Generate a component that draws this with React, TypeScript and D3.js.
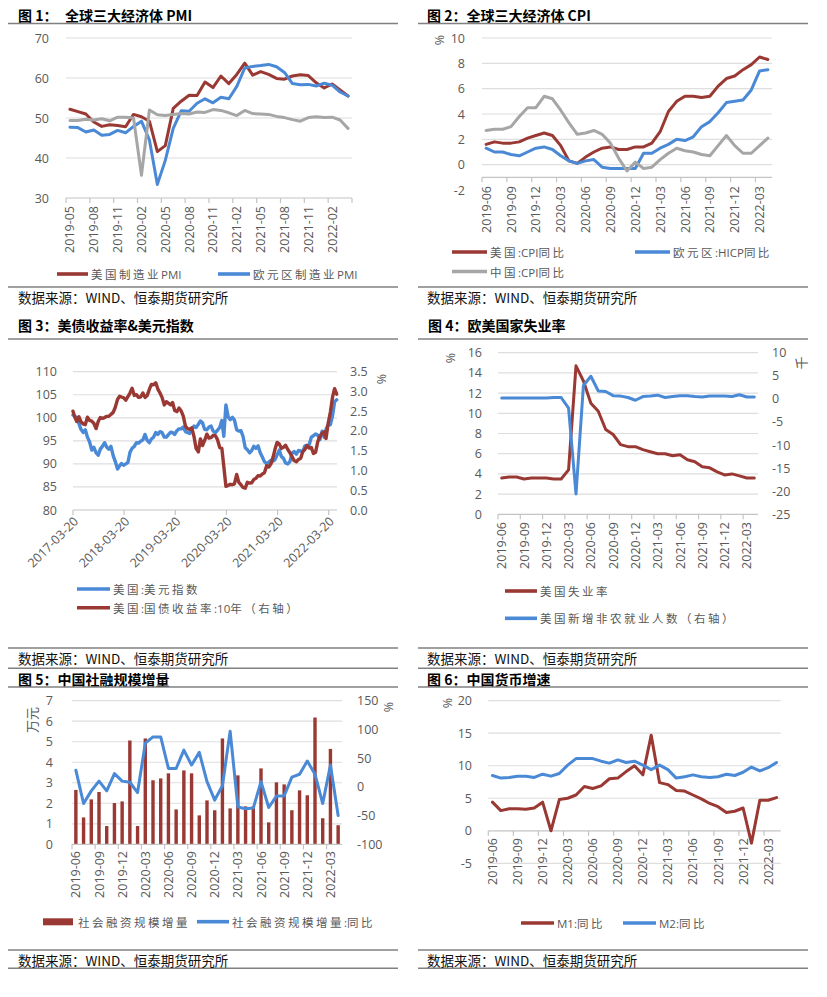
import React from "react";
import * as d3 from "d3";

const RED = "#9a3833";
const BLUE = "#4a89d6";
const GRAYL = "#a6a6a6";
const GRID = "#dedede";
const AXISC = "#c4c4c4";
const TXT = "#595959";
const RULE = "#808080";
const NUMF = "'Open Sans', 'Liberation Sans', Arial, sans-serif";
const CJKF = "'Noto Sans CJK SC', 'Noto Sans', sans-serif";
const LEGF = "'Open Sans', 'Noto Sans CJK SC', sans-serif";

// ---------- categories ----------
const months35 = [
  "2019-06", "2019-07", "2019-08", "2019-09", "2019-10", "2019-11", "2019-12",
  "2020-01", "2020-02", "2020-03", "2020-04", "2020-05", "2020-06", "2020-07", "2020-08", "2020-09", "2020-10", "2020-11", "2020-12",
  "2021-01", "2021-02", "2021-03", "2021-04", "2021-05", "2021-06", "2021-07", "2021-08", "2021-09", "2021-10", "2021-11", "2021-12",
  "2022-01", "2022-02", "2022-03", "2022-04",
];
const months36 = ["2019-05", ...months35];

// ---------- 图1 PMI ----------
const pmiUS = [52.2, 51.6, 51.0, 49.0, 47.9, 48.3, 48.1, 47.8, 50.9, 50.3, 49.2, 41.6, 43.1, 52.4, 54.2, 55.7, 55.6, 59.0, 57.6, 60.5, 58.6, 60.9, 63.7, 60.7, 61.6, 60.9, 59.9, 59.7, 60.5, 60.8, 60.6, 58.8, 57.5, 58.5, 57.0, 55.5];
const pmiEU = [47.7, 47.6, 46.5, 47.0, 45.7, 45.9, 46.9, 46.3, 47.9, 49.2, 44.5, 33.4, 39.4, 47.4, 51.8, 51.7, 53.7, 54.8, 53.8, 55.2, 54.8, 57.9, 62.5, 62.9, 63.1, 63.4, 62.8, 61.4, 58.6, 58.3, 58.4, 58.0, 58.7, 58.2, 56.5, 55.5];
const pmiCN = [49.4, 49.4, 49.7, 49.5, 49.8, 49.3, 50.2, 50.2, 50.0, 35.7, 52.0, 50.8, 50.6, 50.9, 51.1, 51.0, 51.5, 51.4, 52.1, 51.9, 51.3, 50.6, 51.9, 51.1, 51.0, 50.9, 50.4, 50.1, 49.6, 49.2, 50.1, 50.3, 50.1, 50.2, 49.5, 47.4];
const pmiTicks = [30, 40, 50, 60, 70];

// ---------- 图2 CPI ----------
const cpiUS = [1.6, 1.8, 1.7, 1.7, 1.8, 2.1, 2.3, 2.5, 2.3, 1.5, 0.3, 0.1, 0.6, 1.0, 1.3, 1.4, 1.2, 1.2, 1.4, 1.4, 1.7, 2.6, 4.2, 5.0, 5.4, 5.4, 5.3, 5.4, 6.2, 6.8, 7.0, 7.5, 7.9, 8.5, 8.3];
const cpiEU = [1.3, 1.0, 1.0, 0.8, 0.7, 1.0, 1.3, 1.4, 1.2, 0.7, 0.3, 0.1, 0.3, 0.4, -0.2, -0.3, -0.3, -0.3, -0.3, 0.9, 0.9, 1.3, 1.6, 2.0, 1.9, 2.2, 3.0, 3.4, 4.1, 4.9, 5.0, 5.1, 5.9, 7.4, 7.5];
const cpiCN = [2.7, 2.8, 2.8, 3.0, 3.8, 4.5, 4.5, 5.4, 5.2, 4.3, 3.3, 2.4, 2.5, 2.7, 2.4, 1.7, 0.5, -0.5, 0.2, -0.3, -0.2, 0.4, 0.9, 1.3, 1.1, 1.0, 0.8, 0.7, 1.5, 2.3, 1.5, 0.9, 0.9, 1.5, 2.1];
const cpiTicks = [-2, 0, 2, 4, 6, 8, 10];

// ---------- 图3 美元指数 & 10Y (half-monthly samples from 2017-03-20) ----------
const rateStart = "2017-03-20";
const rateYearTicks = ["2017-03-20", "2018-03-20", "2019-03-20", "2020-03-20", "2021-03-20", "2022-03-20"];
const dxy = [
  100.6,
  100.4, 100.0, 98.8, 97.5, 96.8, 97.4, 95.8, 94.8, 93.0, 93.6, 92.4, 91.9, 93.2, 93.8, 94.6, 93.6, 93.2, 93.8,
  91.8, 90.5, 88.9, 89.6, 90.1, 89.7, 90.0, 90.3, 92.5, 93.4, 93.8, 94.6, 94.5, 94.9, 95.2, 96.4, 95.1, 94.6, 95.4, 95.8, 96.8, 96.4, 97.0, 96.8,
  95.8, 95.8, 96.4, 96.9, 96.8, 96.4, 97.2, 97.6, 97.6, 98.0, 97.0, 96.8, 96.6, 97.4, 98.2, 97.9, 98.6, 99.3, 98.9, 97.5, 97.4, 98.0, 98.2, 97.1,
  96.8, 97.3, 97.9, 99.4, 96.0, 102.8, 100.2, 99.6, 100.1, 99.5, 97.4, 97.1, 97.2, 96.0, 93.5, 93.1, 92.4, 92.9, 93.8, 93.4, 93.9, 92.4, 91.5, 90.5,
  90.0, 90.4, 90.8, 90.6, 90.9, 91.9, 93.0, 91.6, 91.2, 90.2, 90.0, 90.5, 92.3, 92.7, 92.1, 92.9, 92.8, 92.6, 93.9, 94.0, 94.2, 95.8, 96.1, 96.5,
  96.2, 95.3, 97.1, 95.8, 97.5, 98.5, 98.5, 100.4, 103.5, 103.9,
];
const ust10y = [
  2.50,
  2.36, 2.24, 2.36, 2.23, 2.18, 2.16, 2.35, 2.27, 2.25, 2.19, 2.06, 2.24, 2.34, 2.32, 2.34, 2.37, 2.37, 2.42,
  2.47, 2.60, 2.80, 2.88, 2.86, 2.84, 2.78, 2.87, 2.96, 3.08, 2.90, 2.92, 2.85, 2.86, 2.96, 2.85, 2.90, 3.05, 3.18, 3.17, 3.22, 3.06, 2.96, 2.85,
  2.66, 2.74, 2.70, 2.66, 2.72, 2.52, 2.49, 2.58, 2.51, 2.38, 2.12, 2.06, 2.04, 2.08, 1.86, 1.56, 1.47, 1.80, 1.63, 1.76, 1.92, 1.82, 1.83, 1.89,
  1.88, 1.78, 1.58, 1.56, 1.10, 0.60, 0.62, 0.65, 0.64, 0.66, 0.90, 0.70, 0.64, 0.57, 0.55, 0.70, 0.68, 0.69, 0.77, 0.80, 0.87, 0.86, 0.91, 0.94,
  1.12, 1.09, 1.17, 1.34, 1.53, 1.71, 1.67, 1.56, 1.59, 1.64, 1.53, 1.45, 1.35, 1.25, 1.22, 1.28, 1.31, 1.48, 1.53, 1.63, 1.57, 1.58, 1.43, 1.46,
  1.73, 1.86, 1.94, 1.98, 1.81, 2.19, 2.48, 2.85, 3.07, 2.93,
];
const dxyTicks = [80, 85, 90, 95, 100, 105, 110];
const ustTicks = [0, 0.5, 1, 1.5, 2, 2.5, 3, 3.5];

// ---------- 图4 失业率 ----------
const unemp = [3.6, 3.7, 3.7, 3.5, 3.6, 3.6, 3.6, 3.5, 3.5, 4.4, 14.7, 13.2, 11.0, 10.2, 8.4, 7.9, 6.9, 6.7, 6.7, 6.4, 6.2, 6.0, 6.0, 5.8, 5.9, 5.4, 5.2, 4.7, 4.6, 4.2, 3.9, 4.0, 3.8, 3.6, 3.6];
const nfp = [0.2, 0.2, 0.2, 0.2, 0.2, 0.2, 0.2, 0.3, 0.3, -2.0, -20.6, 2.9, 4.9, 1.7, 1.6, 0.7, 0.6, 0.3, -0.3, 0.5, 0.6, 0.8, 0.3, 0.5, 0.7, 0.7, 0.5, 0.4, 0.6, 0.6, 0.6, 0.5, 0.9, 0.4, 0.4];
const unempTicks = [0, 2, 4, 6, 8, 10, 12, 14, 16];
const nfpTicks = [-25, -20, -15, -10, -5, 0, 5, 10];

// ---------- 图5 社融 ----------
const tsf = [2.65, 1.31, 2.19, 2.55, 0.89, 2.01, 2.09, 5.06, 0.89, 5.16, 3.12, 3.21, 3.46, 1.70, 3.60, 3.46, 1.41, 2.14, 1.66, 5.16, 1.75, 3.36, 1.85, 1.85, 3.70, 1.07, 3.02, 2.92, 1.66, 2.63, 2.39, 6.18, 1.27, 4.65, 0.93];
const tsfYoY = [29, -29, -7, 10, -7, 23, 10, 8, -10, 76, 87, 87, 32, 32, 64, 38, 60, 9, -23, 2, 97, -35, -38, -37, 9, -36, -16, -16, 17, 22, 45, 22, -29, 38, -50];
const tsfTicks = [0, 1, 2, 3, 4, 5, 6, 7];
const tsfYoYTicks = [-100, -50, 0, 50, 100, 150];

// ---------- 图6 货币 ----------
const m1 = [4.4, 3.1, 3.4, 3.4, 3.3, 3.5, 4.4, 0.0, 4.8, 5.0, 5.5, 6.8, 6.5, 6.9, 8.0, 8.1, 9.1, 10.0, 8.6, 14.7, 7.4, 7.1, 6.2, 6.1, 5.5, 4.9, 4.2, 3.7, 2.8, 3.0, 3.5, -1.9, 4.7, 4.7, 5.1];
const m2 = [8.5, 8.1, 8.2, 8.4, 8.4, 8.2, 8.7, 8.4, 8.8, 10.1, 11.1, 11.1, 11.1, 10.7, 10.4, 10.9, 10.5, 10.7, 10.1, 9.4, 10.1, 9.4, 8.1, 8.3, 8.6, 8.3, 8.2, 8.3, 8.7, 8.5, 9.0, 9.8, 9.2, 9.7, 10.5];
const moneyTicks = [-5, 0, 5, 10, 15, 20];

const SOURCE = "数据来源：WIND、恒泰期货研究所";

// ---------- helpers ----------
const CJK_RE = /[\u3000-\u303f\u4e00-\u9fff\uff00-\uffef]/;
function LegendLabel({ x, y, text, size = 11.5, sp = 2.5 }: any) {
  const runs = text.match(/[\u3000-\u303f\u4e00-\u9fff\uff00-\uffef]+|[^\u3000-\u303f\u4e00-\u9fff\uff00-\uffef]+/g) || [];
  return (
    <text x={x} y={y} dominantBaseline="central" fontSize={size} fill={TXT} fontFamily={LEGF}>
      {runs.map((r: string, i: number) => (
        <tspan key={i} letterSpacing={CJK_RE.test(r) ? sp : 0}>{r}</tspan>
      ))}
    </text>
  );
}

function LegendLine({ x1, x2, y, color, text }: any) {
  return (
    <g>
      <line x1={x1} x2={x2} y1={y} y2={y} stroke={color} strokeWidth={3.6} />
      <LegendLabel x={x2 + 3} y={y} text={text} />
    </g>
  );
}

function Grid({ ys, x1, x2 }: any) {
  return (
    <g>
      {ys.map((y: number, i: number) => (
        <line key={i} x1={x1} x2={x2} y1={y} y2={y} stroke={GRID} strokeWidth={1.2} />
      ))}
    </g>
  );
}

function YLabels({ vals, scale, x, anchor = "end", fmt = (v: number) => String(v) }: any) {
  return (
    <g>
      {vals.map((v: number, i: number) => (
        <text key={i} x={x} y={scale(v)} textAnchor={anchor} dominantBaseline="central" fontSize={12.5} fill={TXT} fontFamily={NUMF}>
          {fmt(v)}
        </text>
      ))}
    </g>
  );
}

function BandAxis({ x, cats, y0, labelTop, every = 3 }: any) {
  const bw = x.bandwidth();
  const r = x.range();
  const ticks: number[] = [];
  cats.forEach((c: string, i: number) => { if (i % every === 0) ticks.push(x(c)); });
  if (cats.length % every === 0) ticks.push(r[1]);
  return (
    <g>
      <line x1={r[0]} x2={r[1]} y1={y0} y2={y0} stroke={AXISC} strokeWidth={1.2} />
      {ticks.map((t, i) => (
        <line key={i} x1={t} x2={t} y1={y0} y2={y0 + 5} stroke={AXISC} strokeWidth={1.2} />
      ))}
      {cats.map((c: string, i: number) =>
        i % every === 0 ? (
          <text key={c} transform={`translate(${x(c) + bw / 2},${labelTop}) rotate(-90)`} textAnchor="end" dominantBaseline="central" fontSize={12.5} fill={TXT} fontFamily={NUMF}>
            {c}
          </text>
        ) : null
      )}
    </g>
  );
}

function RotLabel({ x, y, text, size = 12.5 }: any) {
  return (
    <text transform={`translate(${x},${y}) rotate(-90)`} textAnchor="middle" dominantBaseline="central" fontSize={size} fill={TXT} fontFamily={LEGF}>
      {text}
    </text>
  );
}

function Frame({ x0, x1, title, titleX, titleY, lines, sourceY }: any) {
  return (
    <g>
      {title}
      {lines.map((y: number, i: number) => (
        <line key={i} x1={x0} x2={x1} y1={y} y2={y} stroke={RULE} strokeWidth={1.5} />
      ))}
      <text x={titleX} y={sourceY} fontSize={13.5} fill="#111" fontFamily={CJKF}>{SOURCE}</text>
    </g>
  );
}

function Title({ x, y, parts }: any) {
  return (
    <g>
      {parts.map((p: any, i: number) => (
        <text key={i} x={x + p.dx} y={y} fontSize={14} fontWeight={700} fill="#000" fontFamily={CJKF}>{p.t}</text>
      ))}
    </g>
  );
}

function bandLine(x: any, cats: string[], y: any, vals: number[]) {
  const bw = x.bandwidth();
  return d3.line<number>()
    .x((_d, i) => x(cats[i]) + bw / 2)
    .y((d) => y(d))(vals) as string;
}

const lineProps = { fill: "none", strokeWidth: 3, strokeLinejoin: "round" as const, strokeLinecap: "round" as const };

export default function App() {
  // Panel 1
  const p1x = d3.scaleBand<string>().domain(months36).range([66, 352]);
  const p1y = d3.scaleLinear().domain([30, 70]).range([198, 38]);
  // Panel 2
  const p2x = d3.scaleBand<string>().domain(months35).range([482, 772]);
  const p2y = d3.scaleLinear().domain([-2, 10]).range([190, 38]);
  // Panel 3
  const parse = d3.timeParse("%Y-%m-%d");
  const p3x = d3.scaleTime().domain([parse("2017-03-20")!, parse("2022-03-20")!]).range([73, 328.7]);
  const p3yL = d3.scaleLinear().domain([80, 110]).range([510, 371.7]);
  const p3yR = d3.scaleLinear().domain([0, 3.5]).range([510, 371.7]);
  const rateMonths = d3.timeMonth.range(new Date(2017, 3, 1), new Date(2022, 5, 1));
  const rateDates: Date[] = [parse(rateStart)!, ...rateMonths.flatMap((m) => [m, d3.timeDay.offset(m, 15)])];
  const dxyPath = d3.line<number>().x((_d, i) => p3x(rateDates[i])).y((d) => p3yL(d))(dxy) as string;
  const ustPath = d3.line<number>().x((_d, i) => p3x(rateDates[i])).y((d) => p3yR(d))(ust10y) as string;
  // Panel 4
  const p4x = d3.scaleBand<string>().domain(months35).range([498, 758]);
  const p4yL = d3.scaleLinear().domain([0, 16]).range([514.3, 352.7]);
  const p4yR = d3.scaleLinear().domain([-25, 10]).range([514.3, 352.7]);
  // Panel 5
  const p5x = d3.scaleBand<string>().domain(months35).range([72, 342]);
  const p5yL = d3.scaleLinear().domain([0, 7]).range([844.3, 700.7]);
  const p5yR = d3.scaleLinear().domain([-100, 150]).range([844.3, 700.7]);
  // Panel 6
  const p6x = d3.scaleBand<string>().domain(months35).range([488.3, 780.7]);
  const p6y = d3.scaleLinear().domain([-5, 20]).range([863.3, 700.7]);

  const barW = 3.4;

  return (
    <svg width={827} height={997} style={{ position: "absolute", left: 0, top: 0, background: "#fff" }}>
      <rect x={0} y={0} width={827} height={997} fill="#fff" />

      {/* ================= Panel 1 ================= */}
      <Frame x0={8} x1={398} titleX={18} sourceY={303} lines={[23.5, 287]}
        title={<Title x={18} y={20.5} parts={[{ t: "图 1：", dx: 0 }, { t: "全球三大经济体 PMI", dx: 47 }]} />} />
      <Grid ys={[40, 50, 60, 70].map((v) => p1y(v))} x1={66} x2={352} />
      <YLabels vals={pmiTicks} scale={p1y} x={49} />
      <BandAxis x={p1x} cats={months36} y0={p1y(30)} labelTop={206} />
      <path d={bandLine(p1x, months36, p1y, pmiUS)} stroke={RED} {...lineProps} />
      <path d={bandLine(p1x, months36, p1y, pmiEU)} stroke={BLUE} {...lineProps} />
      <path d={bandLine(p1x, months36, p1y, pmiCN)} stroke={GRAYL} {...lineProps} />
      <LegendLine x1={57} x2={88} y={274} color={RED} text="美国制造业PMI" />
      <LegendLine x1={218} x2={250} y={274} color={BLUE} text="欧元区制造业PMI" />

      {/* ================= Panel 2 ================= */}
      <Frame x0={418} x1={808} titleX={427} sourceY={303} lines={[23.5, 287]}
        title={<Title x={427} y={20.5} parts={[{ t: "图 2：全球三大经济体 CPI", dx: 0 }]} />} />
      <Grid ys={[0, 2, 4, 6, 8, 10].map((v) => p2y(v))} x1={482} x2={772} />
      <YLabels vals={cpiTicks} scale={p2y} x={465} />
      <RotLabel x={439} y={40} text="%" />
      <BandAxis x={p2x} cats={months35} y0={p2y(-1)} labelTop={186} />
      <path d={bandLine(p2x, months35, p2y, cpiUS)} stroke={RED} {...lineProps} />
      <path d={bandLine(p2x, months35, p2y, cpiEU)} stroke={BLUE} {...lineProps} />
      <path d={bandLine(p2x, months35, p2y, cpiCN)} stroke={GRAYL} {...lineProps} />
      <LegendLine x1={452} x2={487} y={252} color={RED} text="美国:CPI同比" />
      <LegendLine x1={635} x2={670} y={252} color={BLUE} text="欧元区:HICP同比" />
      <LegendLine x1={452} x2={487} y={271.5} color={GRAYL} text="中国:CPI同比" />

      {/* ================= Panel 3 ================= */}
      <Frame x0={8} x1={398} titleX={18} sourceY={664} lines={[339, 648, 668.3]}
        title={<Title x={18} y={331} parts={[{ t: "图 3：美债收益率&美元指数", dx: 0 }]} />} />
      <Grid ys={[85, 90, 95, 100, 105, 110].map((v) => p3yL(v))} x1={73} x2={337} />
      <line x1={73} x2={337} y1={510} y2={510} stroke={AXISC} strokeWidth={1.2} />
      {rateYearTicks.map((t) => {
        const tx = p3x(parse(t)!);
        return (
          <g key={t}>
            <line x1={tx} x2={tx} y1={510} y2={515} stroke={AXISC} strokeWidth={1.2} />
            <text transform={`translate(${tx + 3},${519}) rotate(-45)`} textAnchor="end" dominantBaseline="central" fontSize={12.5} fill={TXT} fontFamily={NUMF}>{t}</text>
          </g>
        );
      })}
      <YLabels vals={dxyTicks} scale={p3yL} x={57} />
      <YLabels vals={ustTicks} scale={p3yR} x={350} anchor="start" fmt={(v: number) => d3.format(".1f")(v)} />
      <RotLabel x={381} y={379} text="%" />
      <path d={dxyPath} stroke={BLUE} {...lineProps} strokeWidth={3.4} />
      <path d={ustPath} stroke={RED} {...lineProps} strokeWidth={3.4} />
      <LegendLine x1={77} x2={110} y={589} color={BLUE} text="美国:美元指数" />
      <LegendLine x1={77} x2={110} y={607.7} color={RED} text="美国:国债收益率:10年（右轴）" />

      {/* ================= Panel 4 ================= */}
      <Frame x0={418} x1={808} titleX={427} sourceY={664} lines={[339, 648, 668.3]}
        title={<Title x={428} y={331} parts={[{ t: "图 4：欧美国家失业率", dx: 0 }]} />} />
      <Grid ys={[2, 4, 6, 8, 10, 12, 14, 16].map((v) => p4yL(v))} x1={498} x2={758} />
      <YLabels vals={unempTicks} scale={p4yL} x={482} />
      <YLabels vals={nfpTicks} scale={p4yR} x={772} anchor="start" />
      <RotLabel x={450} y={358} text="%" />
      <RotLabel x={801} y={363} text="千" size={13} />
      <BandAxis x={p4x} cats={months35} y0={p4yL(0)} labelTop={522} />
      <path d={bandLine(p4x, months35, p4yL, unemp)} stroke={RED} {...lineProps} />
      <path d={bandLine(p4x, months35, p4yR, nfp)} stroke={BLUE} {...lineProps} />
      <LegendLine x1={505} x2={537} y={591} color={RED} text="美国失业率" />
      <LegendLine x1={505} x2={537} y={618.3} color={BLUE} text="美国新增非农就业人数（右轴）" />

      {/* ================= Panel 5 ================= */}
      <Frame x0={8} x1={398} titleX={18} sourceY={965.5} lines={[687, 950, 968.3]}
        title={<Title x={18} y={684.5} parts={[{ t: "图 5：中国社融规模增量", dx: 0 }]} />} />
      <Grid ys={[1, 2, 3, 4, 5, 6, 7].map((v) => p5yL(v))} x1={72} x2={342} />
      <YLabels vals={tsfTicks} scale={p5yL} x={53} />
      <YLabels vals={tsfYoYTicks} scale={p5yR} x={357} anchor="start" />
      <RotLabel x={388} y={707} text="%" />
      <RotLabel x={32} y={720} text="万元" size={13} />
      {tsf.map((v, i) => (
        <rect key={i} x={p5x(months35[i])! + p5x.bandwidth() / 2 - barW / 2} y={p5yL(v)} width={barW} height={p5yL(0) - p5yL(v)} fill={RED} />
      ))}
      <BandAxis x={p5x} cats={months35} y0={p5yL(0)} labelTop={851} />
      <path d={bandLine(p5x, months35, p5yR, tsfYoY)} stroke={BLUE} {...lineProps} />
      <rect x={43} y={918.3} width={30} height={7} fill={RED} />
      <LegendLabel x={78} y={921.7} text="社会融资规模增量" />
      <LegendLine x1={197} x2={229} y={921.7} color={BLUE} text="社会融资规模增量:同比" />

      {/* ================= Panel 6 ================= */}
      <Frame x0={418} x1={808} titleX={427} sourceY={965.5} lines={[687, 950, 968.3]}
        title={<Title x={427} y={684.5} parts={[{ t: "图 6：中国货币增速", dx: 0 }]} />} />
      <Grid ys={[-5, 5, 10, 15, 20].map((v) => p6y(v))} x1={488.3} x2={780.7} />
      <YLabels vals={moneyTicks} scale={p6y} x={472} />
      <RotLabel x={447} y={703} text="%" />
      <BandAxis x={p6x} cats={months35} y0={p6y(0)} labelTop={838} />
      <path d={bandLine(p6x, months35, p6y, m1)} stroke={RED} {...lineProps} />
      <path d={bandLine(p6x, months35, p6y, m2)} stroke={BLUE} {...lineProps} />
      <LegendLine x1={521} x2={554} y={923} color={RED} text="M1:同比" />
      <LegendLine x1={623} x2={656} y={923} color={BLUE} text="M2:同比" />
    </svg>
  );
}
